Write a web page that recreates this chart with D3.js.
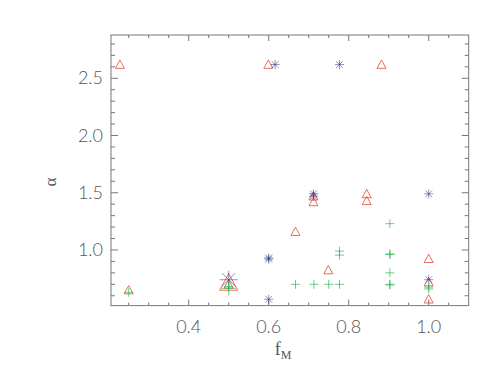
<!DOCTYPE html>
<html>
<head>
<meta charset="utf-8">
<script src="https://cdn.jsdelivr.net/npm/d3@7"></script>
<style>
  body { margin: 0; background: #fff; }
  text { font-family: "Lato", "DejaVu Sans", sans-serif; font-weight: 300; fill: #555; }
</style>
</head>
<body>
<div id="chart"></div>
<script>
// red triangles
var redX = [0.228, 0.599, 0.882, 0.25, 0.5, 0.5, 0.667, 0.712, 0.712, 0.845, 0.845, 0.749, 1.0, 1.0, 1.0];
var redY = [2.62, 2.62, 2.62, 0.65, 0.715, 0.70, 1.16, 1.42, 1.47, 1.49, 1.43, 0.825, 0.924, 0.72, 0.57];
var redN = [1, 1, 1, 1, 4, 1, 1, 1, 1, 1, 1, 1, 1, 1, 1];

// blue asterisks
var blueX = [0.616, 0.777, 0.5, 0.6, 0.6, 0.6, 0.712, 0.712, 1.0, 1.0];
var blueY = [2.62, 2.62, 0.74, 0.92, 0.93, 0.57, 1.47, 1.49, 1.49, 0.74];
var blueN = [1, 1, 4, 1, 1, 1, 1, 1, 1, 1];

// green plus signs
var greenX = [0.25, 0.5, 0.5, 0.667, 0.713, 0.75, 0.777, 0.777, 0.777, 0.903, 0.903, 0.903, 0.903, 0.903, 0.903, 1.0, 1.0];
var greenY = [0.63, 0.665, 0.68, 0.70, 0.70, 0.70, 0.70, 0.99, 0.955, 1.23, 0.965, 0.96, 0.80, 0.70, 0.695, 0.675, 0.66];
var greenN = [1, 4, 1, 1, 1, 1, 1, 1, 1, 1, 1, 1, 1, 1, 1, 1, 1];

var xTicks = [0.4, 0.6, 0.8, 1.0];
var yTicks = [1.0, 1.5, 2.0, 2.5];

var W = 501, H = 377;
var margin = {top: 35, right: 32.3, bottom: 71.4, left: 111};
var width = W - margin.left - margin.right,
    height = H - margin.top - margin.bottom;

var svg = d3.select("#chart").append("svg")
    .attr("width", W).attr("height", H);
var g = svg.append("g")
    .attr("transform", "translate(" + margin.left + "," + margin.top + ")");

var x = d3.scaleLinear().domain([0.2058, 1.1]).range([0, width]);
var y = d3.scaleLinear().domain([0.514, 2.878]).range([height, 0]);

var axisColor = "#777";
var major = 6, minor = 3;

// minor tick positions
var xMinor = d3.range(0.25, 1.0999, 0.05).filter(function(v) {
    return !xTicks.some(function(t) { return Math.abs(t - v) < 1e-6; });
});
var yMinor = d3.range(0.6, 2.8501, 0.1).filter(function(v) {
    return !yTicks.some(function(t) { return Math.abs(t - v) < 1e-6; });
});

function drawTicks(scaleFn, vals, len, horizontal) {
    vals.forEach(function(v) {
        var p = scaleFn(v);
        if (horizontal) {
            g.append("line").attr("x1", p).attr("x2", p).attr("y1", height).attr("y2", height - len)
                .attr("stroke", axisColor).attr("stroke-width", 1);
            g.append("line").attr("x1", p).attr("x2", p).attr("y1", 0).attr("y2", len)
                .attr("stroke", axisColor).attr("stroke-width", 1);
        } else {
            g.append("line").attr("x1", 0).attr("x2", len).attr("y1", p).attr("y2", p)
                .attr("stroke", axisColor).attr("stroke-width", 1);
            g.append("line").attr("x1", width).attr("x2", width - len).attr("y1", p).attr("y2", p)
                .attr("stroke", axisColor).attr("stroke-width", 1);
        }
    });
}
drawTicks(x, xTicks, major, true);
drawTicks(x, xMinor, minor, true);
drawTicks(y, yTicks, major + 1, false);
drawTicks(y, yMinor, minor + 1, false);

g.append("rect").attr("x", 0).attr("y", 0).attr("width", width).attr("height", height)
    .attr("fill", "none").attr("stroke", axisColor).attr("stroke-width", 1);

// tick labels
g.selectAll(".xl").data(xTicks).enter().append("text")
    .attr("x", function(d) { return x(d); })
    .attr("y", height + 27)
    .attr("text-anchor", "middle")
    .attr("font-size", 18)
    .text(function(d) { return d.toFixed(1); });

g.selectAll(".yl").data(yTicks).enter().append("text")
    .attr("x", -8)
    .attr("y", function(d) { return y(d) + 6; })
    .attr("text-anchor", "end")
    .attr("font-size", 18)
    .text(function(d) { return d.toFixed(1); });

// axis titles
var xt = svg.append("text").attr("x", 283).attr("y", 355).attr("text-anchor", "middle")
    .attr("font-size", 18).style("font-family", "Liberation Serif, serif");
xt.append("tspan").text("f");
xt.append("tspan").attr("dy", 4).attr("font-size", 12).text("M");

svg.append("text")
    .attr("transform", "translate(56,182) rotate(-90)")
    .attr("text-anchor", "middle")
    .attr("font-size", 17)
    .style("font-family", "Liberation Serif, serif")
    .text("α");

// markers
var red = "#e64a34", blue = "#1e2f80", green = "#20b04a";
var base = 4.5;

var tri = g.append("g");
redX.forEach(function(v, i) {
    var s = base * Math.sqrt(redN[i]);
    var cx = x(v), cy = y(redY[i]);
    tri.append("path")
        .attr("d", "M" + cx + "," + (cy - s) + "L" + (cx + s) + "," + (cy + s * 0.85) +
              "L" + (cx - s) + "," + (cy + s * 0.85) + "Z")
        .attr("fill", "none").attr("stroke", red).attr("stroke-opacity", 0.8).attr("stroke-width", 1);
});

var ast = g.append("g");
blueX.forEach(function(v, i) {
    var s = base * Math.sqrt(blueN[i]);
    var d = s * 0.75;
    var cx = x(v), cy = y(blueY[i]);
    [[0, s], [s, 0], [d, d], [d, -d]].forEach(function(o) {
        ast.append("line")
            .attr("x1", cx - o[0]).attr("y1", cy - o[1])
            .attr("x2", cx + o[0]).attr("y2", cy + o[1])
            .attr("stroke", blue).attr("stroke-opacity", 0.5).attr("stroke-width", 1);
    });
});

var pl = g.append("g");
greenX.forEach(function(v, i) {
    var s = base * Math.sqrt(greenN[i]) * (greenN[i] > 1 ? 0.8 : 1);
    var cx = x(v), cy = y(greenY[i]);
    [[0, s], [s, 0]].forEach(function(o) {
        pl.append("line")
            .attr("x1", cx - o[0]).attr("y1", cy - o[1])
            .attr("x2", cx + o[0]).attr("y2", cy + o[1])
            .attr("stroke", green).attr("stroke-opacity", 0.65).attr("stroke-width", 1);
    });
});
</script>
</body>
</html>
